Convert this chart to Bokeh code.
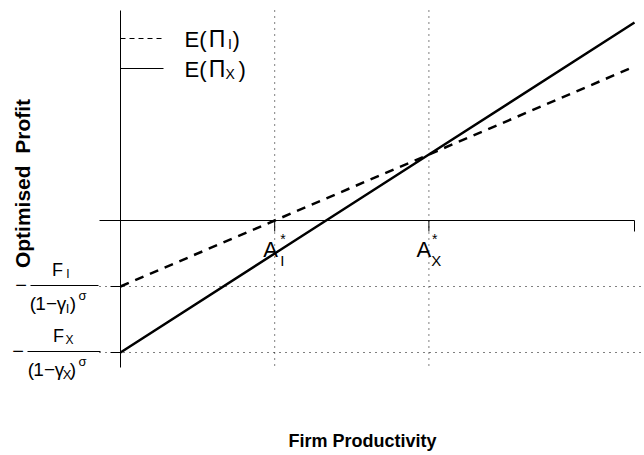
import math
from bokeh.plotting import figure
from bokeh.models import Range1d
from bokeh.core.properties import value
from bokeh.embed import file_html
from bokeh.resources import INLINE

# ---- data -------------------------------------------------------------
# Firm productivity and the optimised profit of the two strategies
productivity = [0, 3, 6, 10]
profit_I = [-3, 0, 3, 7]        # E(Π_I)
profit_X = [-6, -1.5, 3, 9]     # E(Π_X)
thresholds = [3, 6]             # A*_I, A*_X
threshold_subs = ["I", "X"]
fixed_costs = [3, 6]            # F_I/(1-γ_I)^σ, F_X/(1-γ_X)^σ
series_names = ["I", "X"]

# ---- canvas geometry --------------------------------------------------
W, H = 644, 455
PX_X = 51.4          # pixels per productivity unit
PX_Y = 22.0          # pixels per profit unit
OX, OY = 120, 220    # pixel position of the origin


def dx(px):
    return px / PX_X


def dy(px):
    return px / PX_Y


p = figure(width=W, height=H, output_backend="svg", toolbar_location=None,
           x_range=Range1d(-OX / PX_X, (W - OX) / PX_X),
           y_range=Range1d(-(H - OY) / PX_Y, OY / PX_Y),
           x_axis_location=None, y_axis_location=None, min_border=0)
p.grid.visible = False
p.outline_line_color = None
p.background_fill_color = "white"
p.border_fill_color = "white"

FONT = value("Liberation Sans")
INK = "black"

y_top, y_bot = dy(OY - 10), -dy(367 - OY)
x_left = -dx(OX - 99)
x_end = productivity[-1]


def txt(x, y, t, size, xo=0, yo=0, align="center", baseline="alphabetic",
        bold=False, angle=0):
    # yo is the wanted baseline offset; the renderer sits text a bit lower
    if baseline == "alphabetic":
        yo = yo - 0.35 * size
    p.text(x=[x], y=[y], text=[t], x_offset=xo, y_offset=yo,
           text_font=FONT, text_font_size=f"{size}px",
           text_align=align, text_baseline=baseline, text_color=INK,
           text_font_style="bold" if bold else "normal", angle=angle)


# dotted reference lines
p.segment(x0=thresholds, y0=[y_top] * 2, x1=thresholds, y1=[y_bot] * 2,
          line_color=INK, line_width=1, line_dash="1 5")
p.segment(x0=[x_left] * 2, y0=[-f for f in fixed_costs],
          x1=[dx(W - OX + 5)] * 2, y1=[-f for f in fixed_costs],
          line_color=INK, line_width=1, line_dash="1 5")

# axes
p.segment(x0=[0], y0=[y_top], x1=[0], y1=[y_bot], line_color=INK, line_width=1)
p.segment(x0=[x_left], y0=[0], x1=[x_end], y1=[0], line_color=INK, line_width=1)
tick_x = thresholds + [x_end]
p.segment(x0=tick_x, y0=[0] * 3, x1=tick_x, y1=[-dy(11)] * 3,
          line_color=INK, line_width=1)
p.segment(x0=[0] * 2, y0=[-f for f in fixed_costs], x1=[-dx(10)] * 2,
          y1=[-f for f in fixed_costs], line_color=INK, line_width=1)

# profit lines
p.line(productivity, profit_I, line_color=INK, line_width=2.5, line_dash="9 7")
p.line(productivity, profit_X, line_color=INK, line_width=2.5)

# legend
leg_y = [dy(OY - 38), dy(OY - 68)]
p.segment(x0=[0], y0=[leg_y[0]], x1=[dx(43)], y1=[leg_y[0]],
          line_color=INK, line_width=1, line_dash="5 4")
p.segment(x0=[0], y0=[leg_y[1]], x1=[dx(43)], y1=[leg_y[1]],
          line_color=INK, line_width=1)
for yy, sub, sub_x, close_x in zip(leg_y, series_names, [107.5, 105], [112, 118]):
    txt(0, yy, "E(", 22, xo=64, yo=9, align="left")
    txt(0, yy, "Π", 23, xo=96.5, yo=9)
    txt(0, yy, sub, 14, xo=sub_x, yo=10, align="left")
    txt(0, yy, ")", 22, xo=close_x, yo=9, align="left")

# threshold labels A*_I, A*_X
for xv, sub, a_off, sub_off, star_off in zip(thresholds, threshold_subs,
                                             [-4, -5], [5.5, 2.3], [5.6, 3.1]):
    txt(xv, 0, "A", 22, xo=a_off, yo=37)
    txt(xv, 0, sub, 15, xo=sub_off, yo=45, align="left")
    txt(xv, 0, "*", 14, xo=star_off, yo=23, align="left")

# fixed-cost tick labels: − F / (1 − γ)^σ
frac_layout = [
    # minus, bar, F, sub, "(", "1", "−", "γ", sub, ")", "σ"
    dict(minus=20.5, bar=(30, 98), F=57, Fs=67.5,
         den=[32.5, 40, 51, 61, 67, 72.5, 82]),
    dict(minus=17.5, bar=(27, 100), F=58, Fs=69,
         den=[30.5, 38, 49, 59, 66.5, 72.5, 82]),
]
for fc, sub, lay in zip(fixed_costs, series_names, frac_layout):
    yv = -fc
    txt(0, yv, "−", 20, xo=lay["minus"] - OX, yo=5.5)
    b0, b1 = lay["bar"]
    p.segment(x0=[-dx(OX - b0)], y0=[yv + dy(1)], x1=[-dx(OX - b1)],
              y1=[yv + dy(1)], line_color=INK, line_width=1)
    txt(0, yv, "F", 18, xo=lay["F"] - OX, yo=-10)
    txt(0, yv, sub, 12, xo=lay["Fs"] - OX, yo=-8)
    c = lay["den"]
    for ch, cx, size, yo in [("(", c[0], 19, 23.5), ("1", c[1], 19, 23.5),
                             ("−", c[2], 19, 23.5), ("γ", c[3], 19, 23.5),
                             (sub, c[4], 13, 27), (")", c[5], 19, 23.5),
                             ("σ", c[6], 13, 14)]:
        txt(0, yv, ch, size, xo=cx - OX, yo=yo)

# axis titles
txt(0, 0, "Firm Productivity", 18, xo=362 - OX, yo=447 - OY, bold=True)
txt(0, 0, "Optimised\u00a0\u00a0Profit", 21, xo=22 - OX, yo=183 - OY,
    baseline="middle", bold=True, angle=math.pi / 2)

open("out.html", "w").write(file_html(p, INLINE))
